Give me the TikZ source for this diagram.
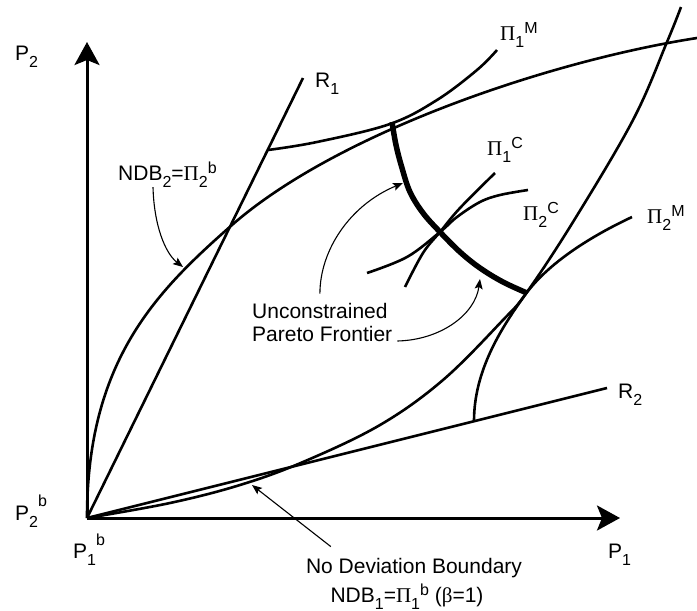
\documentclass[tikz,border=0pt]{standalone}
\usepackage{fontspec}
\setmainfont{Liberation Sans}
\newfontfamily\grk{Liberation Serif}
\usetikzlibrary{arrows.meta}
\newcommand\sbx[1]{\raisebox{-7pt}{\fontsize{16}{16}\selectfont #1}}
\newcommand\spx[2][7pt]{\raisebox{#1}{\fontsize{16}{16}\selectfont #2}}
\newcommand\PI{{\grk Π}}
\begin{document}
\begin{tikzpicture}[x=1pt,y=-1pt,
  lbl/.style={inner sep=0pt,anchor=base west,font=\fontsize{21}{23}\selectfont},
  ctr/.style={inner sep=0pt,anchor=base,font=\fontsize{21}{23}\selectfont},
  axis/.style={line width=3pt,-{Stealth[length=23pt,width=25pt,inset=5pt]}},
  curve/.style={line width=2.6pt},
  frontier/.style={line width=5.5pt},
  ann/.style={line width=1.1pt,-{Stealth[length=10pt,width=8pt,inset=2pt]}}]
\useasboundingbox (0,0) rectangle (697,611);

% origin and axes
\coordinate (O) at (87,518);
\coordinate (yend) at (87,42);
\coordinate (xend) at (620,518);
\draw[axis] (O) -- (yend);
\draw[axis] (O) -- (xend);

% reaction functions
\coordinate (r1) at (303,78);
\coordinate (r2) at (607,388);
\draw[curve] (O) -- (r1);
\draw[curve] (O) -- (r2);

% NDB2 (upper boundary)
\draw[curve] (O) .. controls (87,360) and (157,291) .. (232,225)
                 .. controls (337,133) and (549,61) .. (697,38);
% NDB1 (lower boundary)
\draw[curve] plot[smooth,tension=0.6] coordinates {(87,518) (170,503) (240,485) (303,462) (380,425) (443,380) (503,320) (527,292) (573,222) (633,120) (667,42) (681,7)};
% Pi1^M
\draw[curve] plot[smooth,tension=0.6] coordinates {(268,150) (317,142) (390,124) (437,100) (477,70) (497,50)};
% Pi2^M
\draw[curve] (474,421) .. controls (474,370) and (502,327) .. (525,295)
                       .. controls (551,259) and (600,232) .. (632,217);
% Pi1^C
\draw[curve] plot[smooth,tension=0.6] coordinates {(405,287) (423,253) (440,232) (460,208) (495,173)};
% Pi2^C
\draw[curve] plot[smooth,tension=0.6] coordinates {(367,273) (407,257) (440,232) (457,217) (480,202) (500,195) (528,190)};
% unconstrained Pareto frontier
\draw[frontier] plot[smooth,tension=0.6] coordinates {(392,122) (396,145) (402,168) (410,192) (423,213) (440,232) (460,252) (480,268) (503,282) (527,293)};

% labels
\node[lbl] (p2) at (15,60) {P\sbx{2}};
\node[lbl] (p2b) at (15,520) {P\sbx{2}\spx[14pt]{b}};
\node[lbl] (p1b) at (73,558) {P\sbx{1}\spx[13pt]{b}};
\node[lbl] (p1) at (608,558) {P\sbx{1}};
\node[lbl] (r1l) at (315,87) {R\sbx{1}};
\node[lbl] (r2l) at (618,398) {R\sbx{2}};
\node[lbl] (pi1m) at (500,40) {\PI\sbx{1}\spx{M}};
\node[lbl] (pi1c) at (487,155) {\PI\sbx{1}\spx{C}};
\node[lbl] (pi2c) at (523,220) {\PI\sbx{2}\spx{C}};
\node[lbl] (pi2m) at (647,223) {\PI\sbx{2}\spx{M}};
\node[lbl] (ndb2) at (118,180) {NDB\sbx{2}=\PI\sbx{2}\spx{b}};
\node[lbl] (up1) at (252,318) {Unconstrained};
\node[lbl] (up2) at (252,341) {Pareto Frontier};
\node[ctr] (nd1) at (414,573) {No Deviation Boundary};
\node[ctr] (nd2) at (407,602) {NDB\sbx{1}=\PI\sbx{1}\spx{b} ({\grk β}=1)};

% annotation arrows
\coordinate (t1) at (183,267);
\coordinate (t2) at (403,183);
\coordinate (t3) at (480,279);
\coordinate (t4) at (252,485);
\draw[ann] ([xshift=35pt]ndb2.south west) .. controls (154,225) and (165,253) .. (t1);
\draw[ann] ([yshift=9pt]up1.north) .. controls (320,250) and (350,205) .. (t2);
\draw[ann] ([xshift=5pt]up2.base east) .. controls (440,340) and (475,315) .. (t3);
\draw[ann] ([xshift=25pt,yshift=11pt]nd1.north west) -- (t4);
\end{tikzpicture}
\end{document}
